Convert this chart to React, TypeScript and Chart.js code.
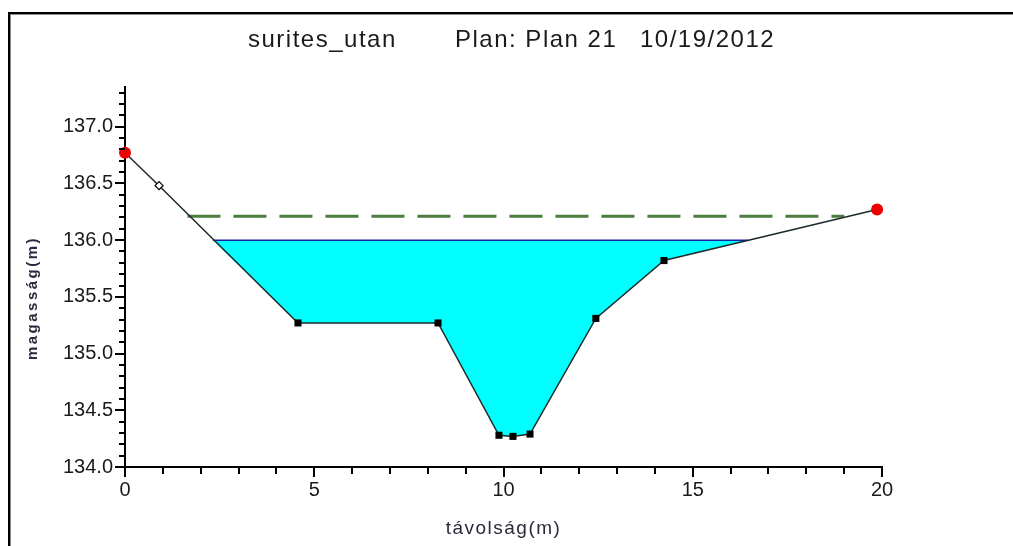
import React, { useEffect, useRef } from 'react';
import { Chart, registerables } from 'chart.js';

Chart.register(...registerables);

// ---- data ----
const titleParts = ['surites_utan', 'Plan: Plan 21', '10/19/2012'];
const xAxisTitle = 'távolság(m)';
const yAxisTitle = 'magasság(m)';

// ground profile (station, elevation)
const groundX = [0, 0.9, 4.57, 8.27, 9.88, 10.25, 10.7, 12.44, 14.24, 19.87];
const groundY = [136.77, 136.48, 135.27, 135.27, 134.28, 134.27, 134.29, 135.31, 135.82, 136.27];
const groundMarkers = ['bank', 'mid', 'node', 'node', 'node', 'node', 'node', 'node', 'node', 'bank'];

// water surface
const waterLevel = 136.0;
const waterX = [2.32, 4.57, 8.27, 9.88, 10.25, 10.7, 12.44, 14.24, 16.46];
const waterY = [136.0, 135.27, 135.27, 134.28, 134.27, 134.29, 135.31, 135.82, 136.0];

// energy grade line
const energyLevel = 136.21;
const energyX = [1.65, 19.0];

// axes
const xMin = 0;
const xMax = 20;
const xStep = 1;
const xMajorEvery = 5;
const yMin = 134.0;
const yMax = 137.35;
const yStep = 0.1;
const yMajorEvery = 0.5;

const FONT = '"Liberation Sans", Arial, sans-serif';

const isMultiple = (v: number, m: number) => Math.abs(v / m - Math.round(v / m)) < 1e-6;

const decorPlugin = {
  id: 'decor',
  beforeDraw(chart: any) {
    const { ctx, width, height } = chart;
    ctx.save();
    ctx.fillStyle = '#ffffff';
    ctx.fillRect(0, 0, width, height);
    // frame
    ctx.fillStyle = '#000000';
    ctx.fillRect(8, 12, 2, height - 12);
    ctx.fillRect(8, 12, width - 8, 2);
    ctx.fillStyle = '#8a8a8a';
    ctx.fillRect(10, 14, 1, height - 14);
    ctx.fillRect(10, 14, width - 10, 1);
    ctx.restore();
  },
  afterDraw(chart: any) {
    const { ctx } = chart;
    const xs = chart.scales.x;
    const ys = chart.scales.y;
    ctx.save();
    // title (three parts)
    ctx.fillStyle = '#1a1a1a';
    ctx.font = `24px ${FONT}`;
    ctx.textBaseline = 'middle';
    ctx.textAlign = 'left';
    (ctx as any).letterSpacing = '1.5px';
    ctx.fillText(titleParts[0], 248, 40);
    ctx.fillText(titleParts[1], 455, 40);
    ctx.fillText(titleParts[2], 640, 40);
    // x axis title
    ctx.textAlign = 'center';
    ctx.font = `19px ${FONT}`;
    ctx.fillStyle = '#2a2a3a';
    (ctx as any).letterSpacing = '1.5px';
    ctx.fillText(xAxisTitle, (xs.left + xs.right) / 2, 529);
    // y axis title
    ctx.save();
    ctx.translate(33, 298);
    ctx.rotate(-Math.PI / 2);
    ctx.font = `bold 15px ${FONT}`;
    (ctx as any).letterSpacing = '2.5px';
    ctx.fillStyle = '#2a2a40';
    ctx.fillText(yAxisTitle, 0, 0);
    ctx.restore();
    (ctx as any).letterSpacing = '0px';
    // tick marks
    ctx.strokeStyle = '#000000';
    ctx.lineWidth = 2;
    ctx.beginPath();
    xs.ticks.forEach((t: any) => {
      const px = Math.round(xs.getPixelForValue(t.value));
      const len = isMultiple(t.value, xMajorEvery) ? 10 : 7;
      ctx.moveTo(px, xs.top);
      ctx.lineTo(px, xs.top + len);
    });
    ys.ticks.forEach((t: any) => {
      const py = Math.round(ys.getPixelForValue(t.value));
      const len = isMultiple(t.value, yMajorEvery) ? 10 : 6;
      ctx.moveTo(ys.right, py);
      ctx.lineTo(ys.right - len, py);
    });
    ctx.stroke();
    ctx.restore();
  },
};

export default function App() {
  const canvasRef = useRef<HTMLCanvasElement | null>(null);

  useEffect(() => {
    document.body.style.margin = '0';
    const canvas = canvasRef.current;
    if (!canvas) return;

    const groundData = groundX.map((x, i) => ({ x, y: groundY[i] }));
    const waterData = waterX.map((x, i) => ({ x, y: waterY[i] }));
    const surfaceData = [
      { x: waterX[0], y: waterLevel },
      { x: waterX[waterX.length - 1], y: waterLevel },
    ];
    const energyData = energyX.map((x) => ({ x, y: energyLevel }));

    const pointStyles = groundMarkers.map((m) => (m === 'bank' ? 'circle' : m === 'mid' ? 'rectRot' : 'rect'));
    const pointRadii = groundMarkers.map((m) => (m === 'bank' ? 6 : m === 'mid' ? 4 : 5));
    const pointBg = groundMarkers.map((m) => (m === 'bank' ? '#ee0000' : m === 'mid' ? '#ffffff' : '#000000'));
    const pointBorder = groundMarkers.map((m) => (m === 'bank' ? '#dd0000' : '#000000'));
    const pointBorderW = groundMarkers.map((m) => (m === 'mid' ? 1.2 : 0));

    const chart = new Chart(canvas, {
      type: 'line',
      data: {
        datasets: [
          {
            label: 'water',
            data: waterData,
            borderWidth: 0,
            borderColor: 'rgba(0,0,0,0)',
            backgroundColor: '#00ffff',
            pointRadius: 0,
            fill: { value: waterLevel },
            tension: 0,
            order: 4,
          },
          {
            label: 'surface',
            data: surfaceData,
            borderColor: '#1c1ca8',
            borderWidth: 1.5,
            pointRadius: 0,
            fill: false,
            order: 3,
          },
          {
            label: 'energy',
            data: energyData,
            borderColor: '#4b7d3e',
            borderWidth: 3,
            borderDash: [33, 13],
            pointRadius: 0,
            fill: false,
            order: 2,
          },
          {
            label: 'ground',
            data: groundData,
            borderColor: '#1e2a2a',
            borderWidth: 1.5,
            pointStyle: pointStyles as any,
            pointRadius: pointRadii,
            pointBackgroundColor: pointBg,
            pointBorderColor: pointBorder,
            pointBorderWidth: pointBorderW,
            fill: false,
            tension: 0,
            clip: false as any,
            order: 1,
          },
        ],
      },
      options: {
        animation: false,
        responsive: false,
        maintainAspectRatio: false,
        events: [],
        layout: { padding: { top: 87, right: 131, left: 0, bottom: 0 } },
        plugins: {
          legend: { display: false },
          title: { display: false },
          tooltip: { enabled: false },
        },
        scales: {
          x: {
            type: 'linear',
            min: xMin,
            max: xMax,
            afterFit: (s: any) => {
              s.height = 79;
            },
            ticks: {
              stepSize: xStep,
              autoSkip: false,
              includeBounds: false,
              maxRotation: 0,
              padding: 11,
              color: '#1a1a1a',
              font: { family: FONT, size: 20 },
              callback: (v: any) => (isMultiple(Number(v), xMajorEvery) ? String(Math.round(Number(v))) : ''),
            },
            grid: { display: true, drawOnChartArea: false, drawTicks: false },
            border: { display: true, color: '#000000', width: 2 },
          },
          y: {
            type: 'linear',
            min: yMin,
            max: yMax,
            afterFit: (s: any) => {
              s.width = 125;
            },
            ticks: {
              stepSize: yStep,
              autoSkip: false,
              includeBounds: false,
              padding: 12,
              color: '#1a1a1a',
              font: { family: FONT, size: 20 },
              callback: (v: any) => (isMultiple(Number(v), yMajorEvery) ? Number(v).toFixed(1) : ''),
            },
            grid: { display: true, drawOnChartArea: false, drawTicks: false },
            border: { display: true, color: '#000000', width: 2 },
          },
        },
      },
      plugins: [decorPlugin],
    });

    return () => {
      chart.destroy();
    };
  }, []);

  return (
    <div style={{ width: 1013, height: 546 }}>
      <canvas ref={canvasRef} width={1013} height={546} style={{ display: 'block' }} />
    </div>
  );
}
